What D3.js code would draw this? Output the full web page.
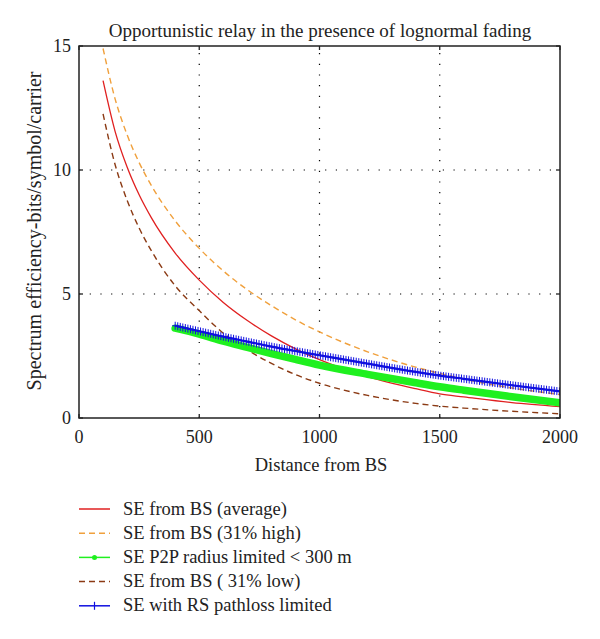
<!DOCTYPE html>
<html><head><meta charset="utf-8">
<script src="https://cdn.jsdelivr.net/npm/d3@7"></script>
<style>body{margin:0;background:#fff}svg{display:block}</style>
</head><body>
<script>
const xAll = [100,150,200,250,300,400,500,600,700,800,900,1000,1200,1400,1500,1600,1800,2000];
const seAverage = [13.6,11.56,10.12,9.0,8.09,6.65,5.56,4.66,3.93,3.31,2.79,2.35,1.67,1.18,0.97,0.85,0.62,0.46];
const seHigh    = [14.9,12.87,11.42,10.3,9.39,7.95,6.84,5.93,5.17,4.53,3.96,3.47,2.67,2.05,1.80,1.57,1.21,0.95];
const seLow     = [12.26,10.22,8.78,7.66,6.76,5.33,4.33,3.42,2.75,2.2,1.75,1.40,0.91,0.59,0.48,0.40,0.27,0.17];
const xRelay = [400,500,600,700,800,900,1000,1200,1400,1500,1600,1800,2000];
const seP2P  = [3.62,3.38,3.1,2.85,2.6,2.36,2.13,1.76,1.42,1.26,1.12,0.86,0.61];
const seRS   = [3.72,3.5,3.28,3.08,2.88,2.7,2.53,2.19,1.86,1.71,1.58,1.32,1.07];
const xTicks = [0,500,1000,1500,2000];
const yTicks = [0,5,10,15];
const legendLabels = ["SE from BS (average)","SE from BS (31% high)","SE P2P radius limited < 300 m","SE from BS ( 31% low)","SE with RS pathloss limited"];

const FONT='"Liberation Serif","DejaVu Serif",serif';
const W=600,H=639, L=79,R=560,T=46,B=418;
const svg=d3.select("body").append("svg").attr("width",W).attr("height",H)
  .style("font-family",FONT);
const x=d3.scaleLinear().domain([0,2000]).range([L,R]);
const y=d3.scaleLinear().domain([0,15]).range([B,T]);

const grid=svg.append("g").attr("stroke","#000").attr("stroke-width",1.2).attr("stroke-dasharray","1.2,9.5");
[500,1000,1500].forEach(v=>grid.append("line").attr("x1",x(v)).attr("x2",x(v)).attr("y1",B).attr("y2",T));
[5,10].forEach(v=>grid.append("line").attr("y1",y(v)).attr("y2",y(v)).attr("x1",L).attr("x2",R));

svg.append("clipPath").attr("id","c").append("rect").attr("x",L).attr("y",T).attr("width",R-L).attr("height",B-T);
const plot=svg.append("g").attr("clip-path","url(#c)");
const mk=(xs,ys)=>xs.map((d,i)=>[d,ys[i]]);
const line=d3.line().x(d=>x(d[0])).y(d=>y(d[1])).curve(d3.curveMonotoneX);

plot.append("path").datum(mk(xAll,seLow)).attr("d",line).attr("fill","none").attr("stroke","#8b3a14").attr("stroke-width",1.4).attr("stroke-dasharray","6,4");
plot.append("path").datum(mk(xAll,seHigh)).attr("d",line).attr("fill","none").attr("stroke","#f0a03c").attr("stroke-width",1.4).attr("stroke-dasharray","6,4");
plot.append("path").datum(mk(xAll,seAverage)).attr("d",line).attr("fill","none").attr("stroke","#e02020").attr("stroke-width",1.3);
plot.append("path").datum(mk(xRelay,seP2P)).attr("d",line).attr("fill","none").attr("stroke","#1ff01f").attr("stroke-width",7.5).attr("stroke-linecap","round");
const rsPath=plot.append("path").datum(mk(xRelay,seRS)).attr("d",line).attr("fill","none").attr("stroke","#1010e0").attr("stroke-width",2.2);
const node=rsPath.node(), len=node.getTotalLength();
const mg=plot.append("g").attr("stroke","#1010e0").attr("stroke-width",1);
for(let s=0;s<=len;s+=2.6){const p=node.getPointAtLength(s);
  mg.append("line").attr("x1",p.x).attr("x2",p.x).attr("y1",p.y-4).attr("y2",p.y+4);
  mg.append("line").attr("x1",p.x-3).attr("x2",p.x+3).attr("y1",p.y).attr("y2",p.y);}

svg.append("rect").attr("x",L).attr("y",T).attr("width",R-L).attr("height",B-T).attr("fill","none").attr("stroke","#222").attr("stroke-width",1.5);
const tk=svg.append("g").attr("stroke","#222").attr("stroke-width",1.3);
xTicks.forEach(v=>{tk.append("line").attr("x1",x(v)).attr("x2",x(v)).attr("y1",B).attr("y2",B-4);
  tk.append("line").attr("x1",x(v)).attr("x2",x(v)).attr("y1",T).attr("y2",T+4);});
yTicks.forEach(v=>{tk.append("line").attr("x1",L).attr("x2",L+4).attr("y1",y(v)).attr("y2",y(v));
  tk.append("line").attr("x1",R).attr("x2",R-4).attr("y1",y(v)).attr("y2",y(v));});
const TC="#222";
xTicks.forEach(v=>svg.append("text").attr("x",x(v)).attr("y",443).attr("text-anchor","middle").attr("font-size",18).attr("fill",TC).text(v));
yTicks.forEach(v=>svg.append("text").attr("x",L-8).attr("y",y(v)+6).attr("text-anchor","end").attr("font-size",18).attr("fill",TC).text(v));

svg.append("text").attr("x",320).attr("y",37).attr("text-anchor","middle").attr("font-size",19).attr("fill",TC).text("Opportunistic relay in the presence of lognormal fading");
svg.append("text").attr("x",321).attr("y",471).attr("text-anchor","middle").attr("font-size",18.5).attr("fill",TC).text("Distance from BS");
svg.append("text").attr("transform","translate(41,231) rotate(-90)").attr("text-anchor","middle").attr("font-size",20).attr("fill",TC).text("Spectrum efficiency-bits/symbol/carrier");

const lg=svg.append("g");
const styles=[{c:"#e02020",d:null},{c:"#f0a03c",d:"6,4"},{c:"#1ff01f",d:null,dot:true},{c:"#8b3a14",d:"6,4"},{c:"#1010e0",d:null,plus:true}];
styles.forEach((s,i)=>{const yy=509+i*24.2;
  lg.append("line").attr("x1",79).attr("x2",110).attr("y1",yy).attr("y2",yy).attr("stroke",s.c).attr("stroke-width",1.5).attr("stroke-dasharray",s.d);
  if(s.dot) lg.append("circle").attr("cx",94.5).attr("cy",yy).attr("r",2.5).attr("fill",s.c);
  if(s.plus) lg.append("line").attr("x1",94.5).attr("x2",94.5).attr("y1",yy-4).attr("y2",yy+4).attr("stroke",s.c).attr("stroke-width",1.2);
  lg.append("text").attr("x",123).attr("y",yy+5.5).attr("font-size",18.5).attr("fill",TC).text(legendLabels[i]);});
</script>
</body></html>
